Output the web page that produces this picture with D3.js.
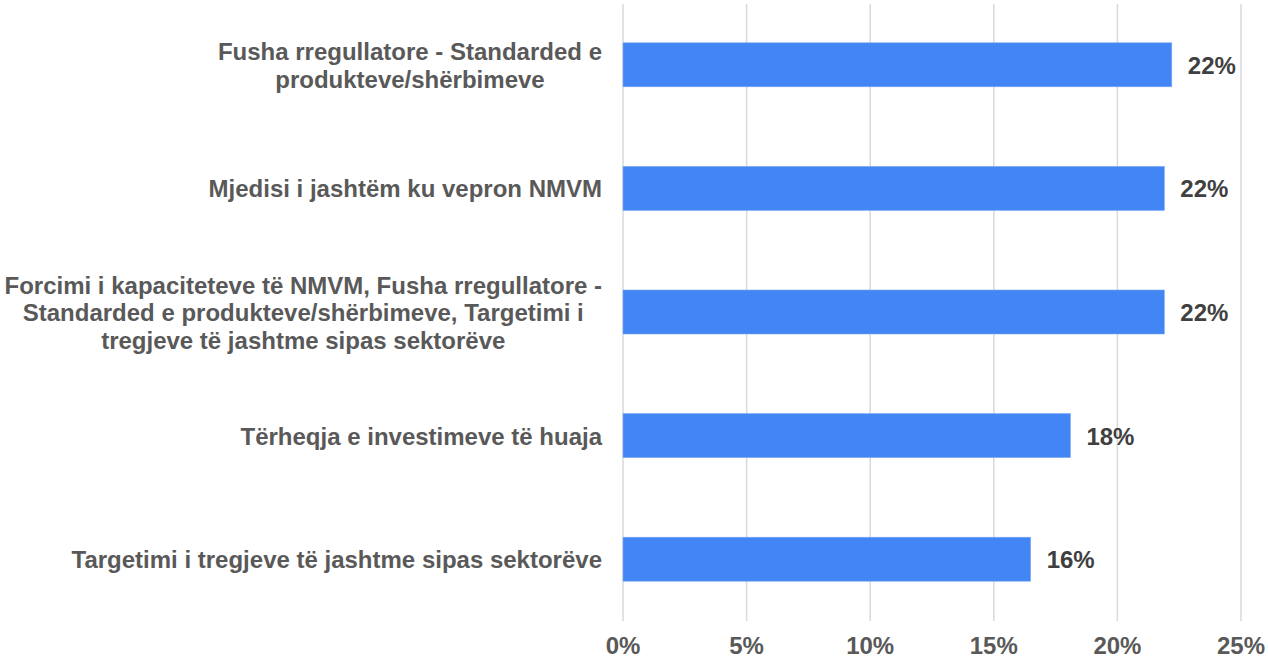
<!DOCTYPE html>
<html>
<head>
<meta charset="utf-8">
<script src="https://cdnjs.cloudflare.com/ajax/libs/d3/7.8.5/d3.min.js"></script>
<style>
body { margin: 0; background: #fff; }
svg text { font-family: "Liberation Sans", Arial, sans-serif; font-weight: bold; }
</style>
</head>
<body>
<svg width="1268" height="660"></svg>
<script>
// categories, top to bottom (each entry = wrapped lines)
var categories = [
    ["Fusha rregullatore - Standarded e", "produkteve/shërbimeve"],
    ["Mjedisi i jashtëm ku vepron NMVM"],
    ["Forcimi i kapaciteteve të NMVM, Fusha rregullatore -", "Standarded e produkteve/shërbimeve, Targetimi i", "tregjeve të jashtme sipas sektorëve"],
    ["Tërheqja e investimeve të huaja"],
    ["Targetimi i tregjeve të jashtme sipas sektorëve"]
]
var values = [22.2, 21.9, 21.9, 18.1, 16.49]
var ticks = [0, 5, 10, 15, 20, 25]

var svg = d3.select("svg")

var plot = { left: 623, right: 1241, top: 3, bottom: 621 }

var xScale = d3.scaleLinear()
    .domain([0, 25])
    .range([plot.left, plot.right])

var yScale = d3.scaleBand()
    .domain(d3.range(categories.length))
    .range([plot.top, plot.bottom])
    .paddingInner(0.644)
    .paddingOuter(0.322)

// gridlines
svg.append("g")
    .selectAll("line")
    .data(ticks)
    .enter()
    .append("line")
    .attr("x1", function (t) { return xScale(t) })
    .attr("x2", function (t) { return xScale(t) })
    .attr("y1", 4)
    .attr("y2", 621)
    .attr("stroke", "#d9d9d9")
    .attr("stroke-width", 1.5)

// x tick labels
svg.append("g")
    .selectAll("text")
    .data(ticks)
    .enter()
    .append("text")
    .attr("x", function (t) { return xScale(t) })
    .attr("y", 654)
    .attr("text-anchor", "middle")
    .attr("font-size", 24)
    .attr("fill", "#595959")
    .text(function (t) { return t + "%" })

// bars
svg.append("g")
    .selectAll("rect")
    .data(values)
    .enter()
    .append("rect")
    .attr("x", xScale(0))
    .attr("y", function (v, i) { return yScale(i) })
    .attr("width", function (v) { return xScale(v) - xScale(0) })
    .attr("height", yScale.bandwidth())
    .attr("fill", "#4285f4")
    .attr("stroke", "#7baaf7")
    .attr("stroke-width", 0.6)

// value labels
svg.append("g")
    .selectAll("text")
    .data(values)
    .enter()
    .append("text")
    .attr("x", function (v) { return xScale(v) + 16 })
    .attr("y", function (v, i) { return yScale(i) + yScale.bandwidth() / 2 + 9 })
    .attr("font-size", 24)
    .attr("fill", "#404040")
    .text(function (v) { return Math.round(v) + "%" })

// category labels, lines centred, block right-aligned
var lineH = 27.5
var labelRight = 602
var labels = svg.append("g")
categories.forEach(function (lines, i) {
    var cy = yScale(i) + yScale.bandwidth() / 2
    var t = labels.append("text")
        .attr("text-anchor", "middle")
        .attr("font-size", 24)
        .attr("fill", "#595959")
    var spans = lines.map(function (line, j) {
        return t.append("tspan")
            .attr("y", cy + 9 + (j - (lines.length - 1) / 2) * lineH)
            .text(line)
    })
    var maxW = d3.max(spans, function (s) { return s.node().getComputedTextLength() })
    spans.forEach(function (s) {
        s.attr("x", labelRight - maxW / 2)
    })
})
</script>
</body>
</html>
